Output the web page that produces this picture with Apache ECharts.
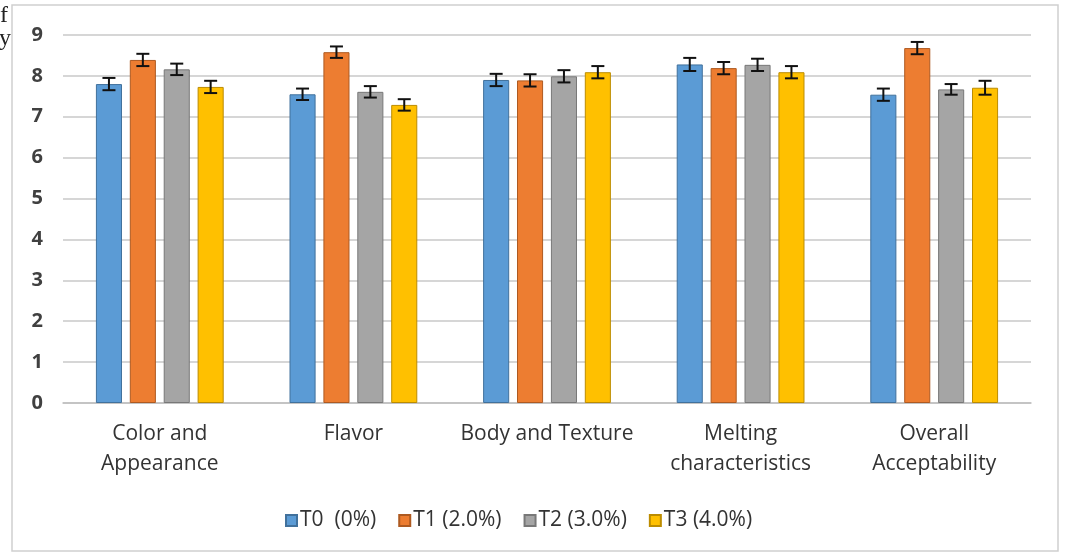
<!DOCTYPE html>
<html><head><meta charset="utf-8">
<script src="https://cdn.jsdelivr.net/npm/echarts@6/dist/echarts.min.js"></script>
<style>html,body{margin:0;padding:0;background:#fff}#c{width:1066px;height:554px}</style>
</head><body><div id="c"></div>
<script>
const categories = ['Color and\nAppearance', 'Flavor', 'Body and Texture', 'Melting\ncharacteristics', 'Overall\nAcceptability'];
const seriesNames = ['T0  (0%)', 'T1 (2.0%)', 'T2 (3.0%)', 'T3 (4.0%)'];
const t0 = [7.80, 7.55, 7.90, 8.28, 7.54];
const t1 = [8.39, 8.58, 7.89, 8.19, 8.68];
const t2 = [8.16, 7.61, 7.99, 8.27, 7.67];
const t3 = [7.73, 7.29, 8.09, 8.09, 7.71];
const e0 = [0.15, 0.14, 0.15, 0.16, 0.15];
const e1 = [0.15, 0.14, 0.15, 0.15, 0.15];
const e2 = [0.14, 0.14, 0.15, 0.15, 0.13];
const e3 = [0.15, 0.14, 0.15, 0.15, 0.17];
const yTicks = [0, 1, 2, 3, 4, 5, 6, 7, 8, 9];
const colors = ['#5B9BD5', '#ED7D31', '#A5A5A5', '#FFC000'];
const borders = ['#41719C', '#AE5A21', '#787878', '#BC8C00'];

const values = [t0, t1, t2, t3];
const errs = [e0, e1, e2, e3];
const barGap = 0.3, catGap = 0.34;

const chart = echarts.init(document.getElementById('c'));
const series = [];
values.forEach((v, i) => {
  series.push({
    name: seriesNames[i], type: 'bar', data: v,
    barGap: (barGap * 100) + '%', barCategoryGap: (catGap * 100) + '%',
    itemStyle: { color: colors[i], borderColor: borders[i], borderWidth: 1 }
  });
});
values.forEach((v, i) => {
  series.push({
    type: 'custom', silent: true, z: 10,
    data: v.map((val, k) => [k, val - errs[i][k], val + errs[i][k]]),
    renderItem: function (params, api) {
      const k = api.value(0);
      const lo = api.coord([k, api.value(1)]);
      const hi = api.coord([k, api.value(2)]);
      const band = api.size([1, 0])[0];
      const n = 4;
      const usable = band * (1 - catGap);
      const bw = usable / (n + (n - 1) * barGap);
      const x = lo[0] - usable / 2 + i * bw * (1 + barGap) + bw / 2;
      const cap = 6.5;
      const st = { stroke: '#111', lineWidth: 2 };
      return { type: 'group', children: [
        { type: 'line', shape: { x1: x, y1: lo[1], x2: x, y2: hi[1] }, style: st },
        { type: 'line', shape: { x1: x - cap, y1: lo[1], x2: x + cap, y2: lo[1] }, style: st },
        { type: 'line', shape: { x1: x - cap, y1: hi[1], x2: x + cap, y2: hi[1] }, style: st }
      ]};
    }
  });
});

chart.setOption({
  animation: false,
  backgroundColor: '#fff',
  textStyle: { fontFamily: '"Open Sans", sans-serif' },
  graphic: [
    { type: 'rect', shape: { x: 12, y: 5, width: 1046, height: 546 }, style: { fill: 'none', stroke: '#d0d0d0', lineWidth: 1.5 } },
    { type: 'text', x: 0, y: 4, style: { text: 'f', fontSize: 24, fontFamily: '"Liberation Serif", serif', fill: '#222' } },
    { type: 'text', x: -1, y: 27, style: { text: 'y', fontSize: 24, fontFamily: '"Liberation Serif", serif', fill: '#222' } }
  ],
  grid: { left: 63, right: 35, top: 35, bottom: 151, containLabel: false },
  legend: {
    data: seriesNames, bottom: 18, left: 280, itemWidth: 11, itemHeight: 11, itemGap: 22,
    icon: 'rect',
    textStyle: { fontSize: 21, color: '#333', fontFamily: '"Open Sans", sans-serif', padding: [0, 0, 0, -2] }
  },
  xAxis: {
    type: 'category', data: categories,
    axisTick: { show: false },
    axisLine: { lineStyle: { color: '#bfbfbf', width: 1.5 } },
    axisLabel: { fontSize: 21, color: '#333', lineHeight: 30, margin: 16, interval: 0, fontFamily: '"Open Sans", sans-serif' }
  },
  yAxis: {
    type: 'value', min: yTicks[0], max: yTicks[yTicks.length - 1], interval: 1,
    axisLine: { show: false }, axisTick: { show: false },
    splitLine: { lineStyle: { color: '#c8c8c8', width: 1.5 } },
    axisLabel: { fontSize: 20, color: '#404040', fontWeight: 'bold', margin: 20, fontFamily: '"Open Sans", sans-serif' }
  },
  series: series
});
</script></body></html>
